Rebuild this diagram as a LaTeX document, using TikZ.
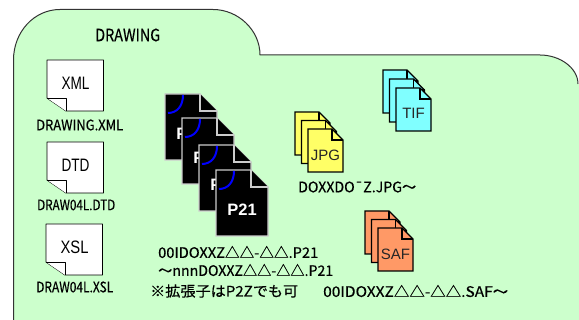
\documentclass[tikz,border=0pt]{standalone}
\usepackage{fontspec}
\setmainfont{Noto Sans CJK JP}[RawFeature={embolden=0.4}]
\newfontfamily\labsans{Liberation Sans}
\definecolor{panel}{HTML}{CCFFCC}
\definecolor{outlinecol}{HTML}{333333}
\definecolor{edgegray}{HTML}{CCCCCC}
\definecolor{jpgfill}{HTML}{FFFF66}
\definecolor{tiffill}{HTML}{80FFFF}
\definecolor{saffill}{HTML}{FF9966}
\tikzset{
  caption/.style={anchor=west,inner sep=0pt,font=\fontsize{14.5}{14.5}\selectfont,text=black},
  whitedoc/.style={draw=black,fill=white,line width=0.9pt,line join=round},
  blackdoc/.style={draw=edgegray,fill=black,line width=1.2pt,line join=miter},
  colordoc/.style={draw=black,line width=1.3pt,line join=miter},
  doclabel/.style={inner sep=0pt,font=\labsans\fontsize{15}{15}\selectfont,text=black!85},
  inlabel/.style={inner sep=0pt,font=\labsans\fontsize{18}{18}\selectfont,text=black},
}
% #1 left, #2 top, #3 name, #4 text
\newcommand{\whitesheet}[4]{%
  \draw[whitedoc] (#1,#2) -- ++(56.5,0) -- ++(0,51) -- ++(-37.5,0) -- ++(-19,-13) -- cycle;
  \draw[whitedoc] (#1,#2+38) -- ++(19,0) -- ++(0,13);
  \node[inlabel] (#3) at (#1+28.5,#2+23) {\resizebox{28pt}{\height}{#4}};
}
% #1 left, #2 top
\newcommand{\darksheet}[3]{%
  \draw[blackdoc] (#1,#2) -- ++(35,0) -- ++(17,17) -- ++(0,49) -- ++(-52,0) -- cycle;
  \draw[blackdoc] (#1+35,#2) -- ++(0,17) -- ++(17,0);
  \draw[blue,line width=2pt] (#1+18,#2+1) .. controls (#1+18,#2+12) and (#1+12,#2+19) .. (#1+3,#2+19);
  \node[text=white,inner sep=0pt,font=\labsans\bfseries\fontsize{16.5}{16.5}\selectfont] (#3) at (#1+26,#2+40) {P21};
}
% #1 left, #2 top, #3 colour
\newcommand{\smallsheet}[3]{%
  \draw[colordoc,fill=#3] (#1,#2) -- ++(24,0) -- ++(11,11) -- ++(0,32) -- ++(-35,0) -- cycle;
  \draw[colordoc] (#1+24,#2) -- ++(0,11) -- ++(11,0);
}
% #1 name, #2 left, #3 y, #4 width, #5 text
\newcommand{\captext}[5]{\node[caption] (#1) at (#2,#3) {\resizebox{#4pt}{\height}{#5}};}
\begin{document}
\begin{tikzpicture}[x=1pt,y=-1pt]
\useasboundingbox (0,0) rectangle (579,320);
\fill[white] (0,0) rectangle (579,320);
\fill[panel] (13.5,320) -- (13.5,60) .. controls (13.5,32) and (34,9.5) .. (60,9.5)
  -- (213,9.5) .. controls (238,9.5) and (260,30) .. (260,55)
  -- (540,55) .. controls (560,55) and (578,68) .. (578,84) -- (579,84) -- (579,320) -- cycle;
\draw[outlinecol,line width=1pt] (13.5,320) -- (13.5,60) .. controls (13.5,32) and (34,9.5) .. (60,9.5)
  -- (213,9.5) .. controls (238,9.5) and (260,30) .. (260,55)
  -- (540,55) .. controls (560,55) and (578,68) .. (578,84);

\node[caption,font=\fontsize{17}{17}\selectfont] (title) at (95,35) {\resizebox{65pt}{\height}{DRAWING}};
\whitesheet{47}{60}{xmlicon}{XML}
\whitesheet{47}{142}{dtdicon}{DTD}
\whitesheet{46}{224}{xslicon}{XSL}
\captext{xmlname}{36}{125}{87}{DRAWING.XML}
\captext{dtdname}{37}{205}{78}{DRAW04L.DTD}
\captext{xslname}{36}{287}{77}{DRAW04L.XSL}

\darksheet{165}{94}{pa}
\darksheet{182}{118}{pb}
\darksheet{199}{145}{pc}
\darksheet{216}{170}{pd}

\smallsheet{295}{112}{jpgfill}
\smallsheet{301.5}{120.5}{jpgfill}
\smallsheet{308}{129}{jpgfill}
\node[doclabel] (jpg) at (325.5,155) {JPG};
\captext{jpgname}{298}{187}{118}{DOXXDO¯Z.JPG〜}

\smallsheet{383}{70}{tiffill}
\smallsheet{389.5}{79}{tiffill}
\smallsheet{396}{88}{tiffill}
\node[doclabel] (tif) at (413.5,113.5) {TIF};

\smallsheet{365}{211}{saffill}
\smallsheet{371.5}{219.5}{saffill}
\smallsheet{378}{228}{saffill}
\node[doclabel] (saf) at (395.5,254.5) {SAF};

\captext{lineone}{158}{252}{160}{00IDOXXZ△△-△△.P21}
\captext{linetwo}{158}{270}{175}{〜nnnDOXXZ△△-△△.P21}
\captext{linethree}{150}{291}{148}{※拡張子はP2Zでも可}
\captext{linefour}{323}{291}{185}{00IDOXXZ△△-△△.SAF〜}
\end{tikzpicture}
\end{document}
